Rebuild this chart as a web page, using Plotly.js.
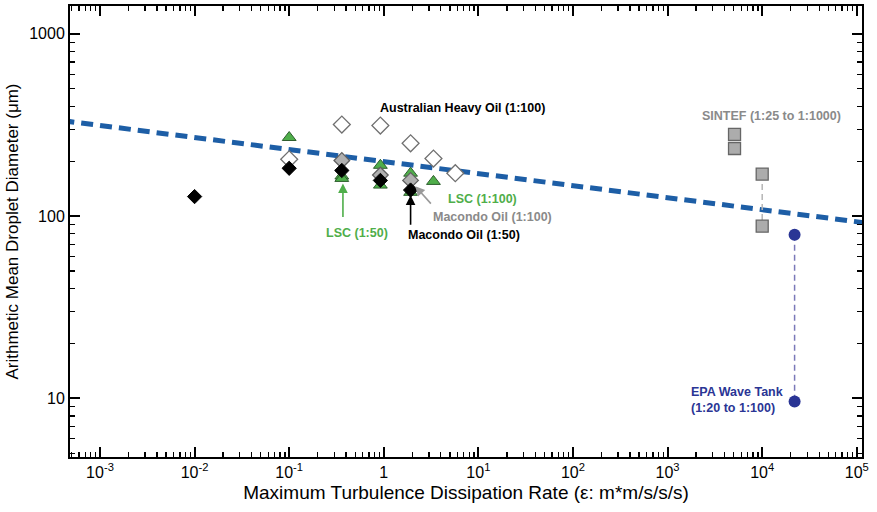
<!DOCTYPE html>
<html>
<head>
<meta charset="utf-8">
<script src="https://cdn.plot.ly/plotly-3.0.1.min.js"></script>
<style>html,body{margin:0;padding:0;background:#fff;}#chart{width:877px;height:512px;}</style>
</head>
<body>
<div id="chart"></div>
<script>
// ---- data ----
const fitX = [0.0004, 120000];
const fitY = [334, 92];

const openDiamondX = [0.1, 0.36, 0.92, 1.92, 3.35, 5.7];
const openDiamondY = [205, 318, 314, 251, 207, 172];

const grayDiamondX = [0.36, 0.92, 1.92];
const grayDiamondY = [202, 168, 157];

const blackDiamondX = [0.01, 0.1, 0.36, 0.92, 1.92];
const blackDiamondY = [128, 183, 178, 157, 139];

const greenTriX = [0.1, 0.36, 0.36, 0.92, 0.92, 1.92, 1.92, 3.35];
const greenTriY = [270, 166, 161, 190, 148, 172, 135, 155];

const sintefX = [5100, 5100, 10000, 10000];
const sintefY = [281, 235, 170, 88];
const sintefLinkX = [10000, 10000];
const sintefLinkY = [170, 88];

const epaX = [22000, 22000];
const epaY = [79, 9.6];

const xTickVals = [0.001, 0.01, 0.1, 1, 10, 100, 1000, 10000, 100000];
const xTickText = ['10<sup>-3</sup>', '10<sup>-2</sup>', '10<sup>-1</sup>', '1', '10<sup>1</sup>',
                   '10<sup>2</sup>', '10<sup>3</sup>', '10<sup>4</sup>', '10<sup>5</sup>'];
const yTickVals = [10, 100, 1000];
const yTickText = ['10', '100', '1000'];

// arrow targets
const arrowLSC50 = {x: 0.37, y: 151};
const arrowMac50 = {x: 1.92, y: 130};
const arrowMac100 = {x: 2.15, y: 146};

// ---- styling ----
const FONT = 'Liberation Sans, Arial, Helvetica, sans-serif';
const GREEN = '#4fae4a';
const BLUE = '#1d5ea6';
const NAVY = '#2a3595';
const GRAY = '#8a8a8a';
const XRANGE = [-3.317, 5.055];
const YRANGE = [0.678, 3.153];

// minor log ticks (2..9 in every decade)
function minorLog(d0, d1) {
  const out = [];
  for (let d = d0; d <= d1; d++) for (let m = 2; m <= 9; m++) out.push(m * Math.pow(10, d));
  return out;
}

const traces = [
  {x: fitX, y: fitY, mode: 'lines', line: {color: BLUE, width: 5, dash: '12px,7px'}, hoverinfo: 'skip'},
  {x: sintefLinkX, y: sintefLinkY, mode: 'lines', line: {color: '#b5b5b5', width: 1.5, dash: '6px,4px'}},
  {x: epaX, y: epaY, mode: 'lines+markers', line: {color: '#7a78b8', width: 1.5, dash: '6px,4px'},
   marker: {symbol: 'circle', size: 12, color: NAVY}},
  {x: openDiamondX, y: openDiamondY, mode: 'markers',
   marker: {symbol: 'diamond', size: 13, color: '#ffffff', line: {color: '#707070', width: 1.3}}},
  {x: greenTriX, y: greenTriY, mode: 'markers',
   marker: {symbol: 'triangle-up', size: 12, color: GREEN, line: {color: '#2e5e2e', width: 1}}},
  {x: grayDiamondX, y: grayDiamondY, mode: 'markers',
   marker: {symbol: 'diamond', size: 12, color: '#b0b0b0', line: {color: '#606060', width: 1.3}}},
  {x: blackDiamondX, y: blackDiamondY, mode: 'markers',
   marker: {symbol: 'diamond', size: 11, color: '#000000', line: {color: '#000000', width: 1}}},
  {x: sintefX, y: sintefY, mode: 'markers',
   marker: {symbol: 'square', size: 12, color: '#acacac', line: {color: '#666666', width: 1.3}}},
  // empty trace that carries the overlay axes used for minor ticks
  {x: [], y: [], xaxis: 'x2', yaxis: 'y2', mode: 'markers', hoverinfo: 'skip'}
];

function lbl(text, x, y, color, extra) {
  return Object.assign({text: text, xref: 'paper', yref: 'paper', x: x, y: y, showarrow: false,
    font: {family: FONT, size: 12.5, color: color, weight: 'bold'}, xanchor: 'center', yanchor: 'middle'}, extra || {});
}
function arrow(pt, ax, ay, color) {
  return {xref: 'x', yref: 'y', x: Math.log10(pt.x), y: Math.log10(pt.y), ax: ax, ay: ay, text: '',
    showarrow: true, arrowhead: 2, arrowsize: 1.2, arrowwidth: 1.6, arrowcolor: color};
}

const annotations = [
  lbl('Australian Heavy Oil (1:100)', 0.496, 0.774, '#000000'),
  lbl('SINTEF (1:25 to 1:1000)', 0.886, 0.756, GRAY),
  lbl('LSC (1:50)', 0.362, 0.497, GREEN),
  lbl('LSC (1:100)', 0.521, 0.572, GREEN),
  lbl('Macondo Oil (1:100)', 0.534, 0.532, GRAY),
  lbl('Macondo Oil (1:50)', 0.497, 0.492, '#000000'),
  lbl('EPA Wave Tank<br>(1:20 to 1:100)', 0.7816, 0.126, NAVY, {xanchor: 'left', align: 'left'}),
  arrow(arrowLSC50, 0, 35, GREEN),
  arrow(arrowMac50, 0, 31, '#000000'),
  arrow(arrowMac100, 17, 19, '#9a9a9a')
];

const axisCommon = {
  type: 'log', showgrid: false, zeroline: false, showline: true, linecolor: '#000', linewidth: 2,
  mirror: 'allticks', ticks: 'inside', ticklen: 10, tickwidth: 2, tickcolor: '#000',
  tickfont: {family: FONT, size: 16, color: '#000'}
};
const minorCommon = {
  type: 'log', showgrid: false, zeroline: false, showline: false, showticklabels: false,
  mirror: 'allticks', ticks: 'inside', ticklen: 5, tickwidth: 1.3, tickcolor: '#000', tickmode: 'array'
};

const layout = {
  width: 877, height: 512, showlegend: false,
  paper_bgcolor: '#ffffff', plot_bgcolor: '#ffffff',
  margin: {l: 70, r: 15, t: 6, b: 55},
  font: {family: FONT},
  xaxis: Object.assign({}, axisCommon, {
    range: XRANGE, tickmode: 'array', tickvals: xTickVals, ticktext: xTickText,
    title: {text: 'Maximum Turbulence Dissipation Rate (ε: m*m/s/s/s)', font: {family: FONT, size: 19, color: '#000'}, standoff: 5}
  }),
  yaxis: Object.assign({}, axisCommon, {
    range: YRANGE, tickmode: 'array', tickvals: yTickVals, ticktext: yTickText,
    title: {text: 'Arithmetic Mean Droplet Diameter (μm)', font: {family: FONT, size: 17, color: '#000'}, standoff: 6}
  }),
  xaxis2: Object.assign({}, minorCommon, {range: XRANGE, overlaying: 'x', anchor: 'y2', tickvals: minorLog(-4, 5)}),
  yaxis2: Object.assign({}, minorCommon, {range: YRANGE, overlaying: 'y', anchor: 'x2', tickvals: minorLog(0, 3)}),
  annotations: annotations
};

Plotly.newPlot('chart', traces, layout, {displayModeBar: false, staticPlot: true});
</script>
</body>
</html>
